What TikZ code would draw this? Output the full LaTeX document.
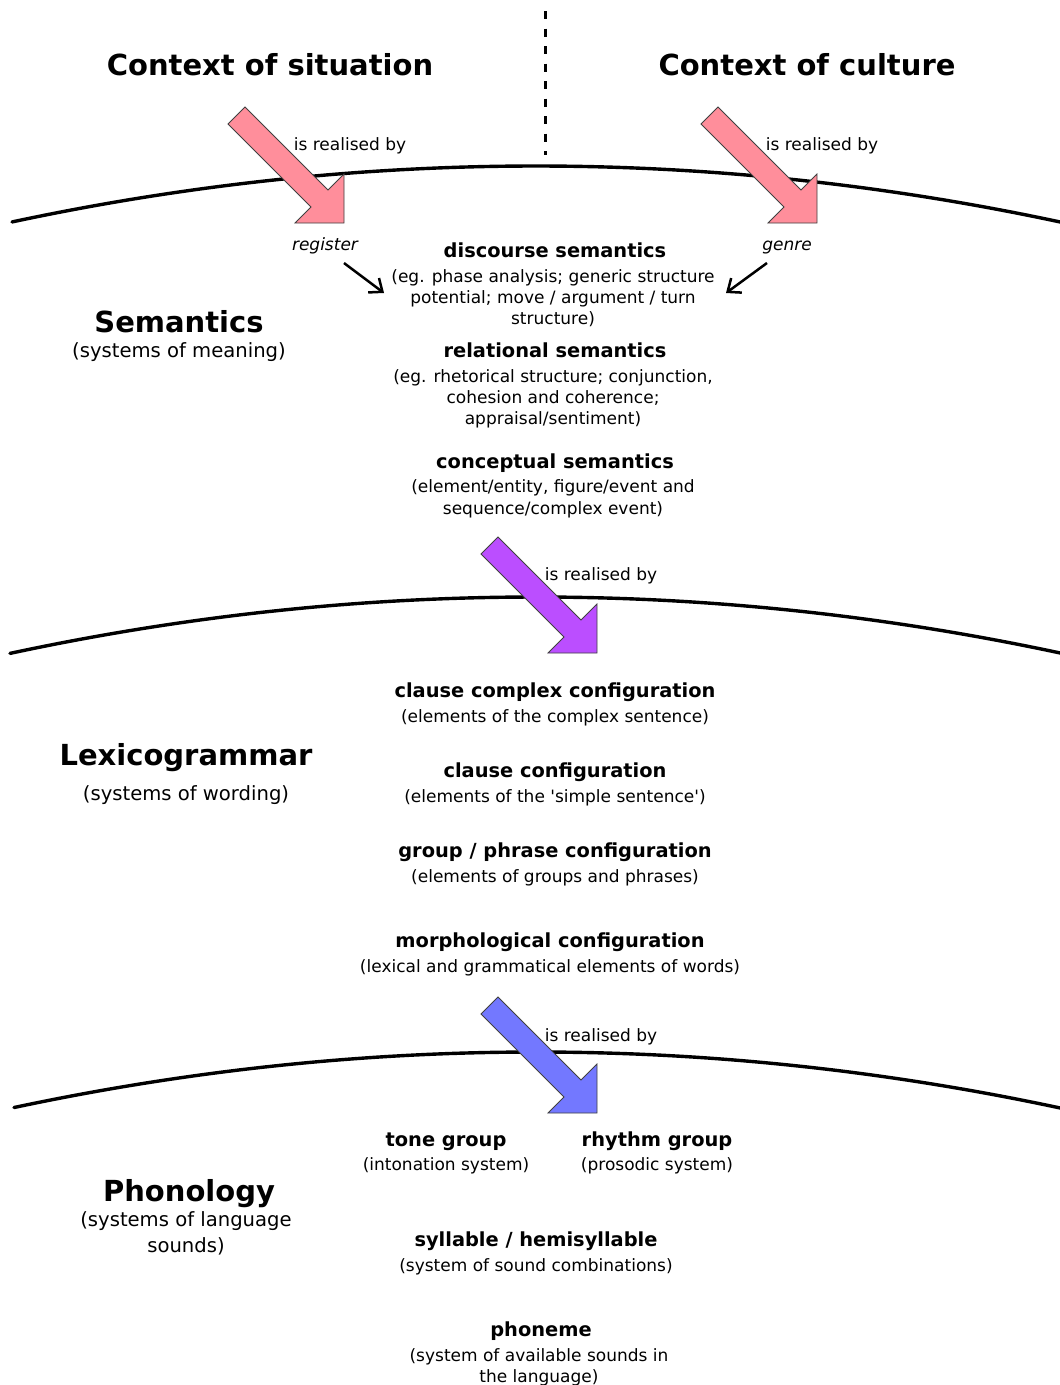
\documentclass[tikz,border=0pt]{standalone}
\usepackage{fontspec}
\setmainfont{DejaVu Sans}
\usetikzlibrary{arrows.meta}
\definecolor{pinkA}{HTML}{FF8E9B}
\definecolor{purpA}{HTML}{BB4EFF}
\definecolor{blueA}{HTML}{7378FF}
\begin{document}
\begin{tikzpicture}[x=1pt,y=-1pt,
  title/.style={font=\bfseries\fontsize{29}{34}\selectfont, anchor=base, inner sep=0pt},
  layer/.style={font=\bfseries\fontsize{29}{34}\selectfont, anchor=base, inner sep=0pt},
  layersub/.style={font=\fontsize{19.6}{24}\selectfont, anchor=base, inner sep=0pt},
  head/.style={font=\bfseries\fontsize{19.4}{24}\selectfont, anchor=base, inner sep=0pt},
  sub/.style={font=\fontsize{17}{21}\selectfont, anchor=base, inner sep=0pt},
  ital/.style={font=\itshape\fontsize{17}{21}\selectfont, anchor=base, inner sep=0pt},
  layerline/.style={line width=3.4pt, line cap=round},
  smallarrow/.style={line width=2.5pt, -{Straight Barb[length=11pt,width=18pt,line width=2.5pt]}},
  blockarrow/.pic={\draw[pic actions] (0,0) -- (0,-49) -- (-16,-33) -- (-99,-116) -- (-116,-99) -- (-33,-16) -- (-49,0) -- cycle;},
  blk/.style={draw=black!75, line width=0.8pt, line join=miter}
]
\useasboundingbox (0,0) rectangle (1060,1385);
\fill[white] (0,0) rectangle (1060,1385);

% dashed divider
\coordinate (dtop) at (545,11);
\coordinate (dbot) at (545,155);
\draw[line width=3pt, dash pattern=on 8pt off 9.5pt] (dtop) -- (dbot);

% layer boundary lines
\draw[layerline] plot[domain=12:1060,samples=90] (\x,{166+((\x-536)/100)^2*2.0375});
\draw[layerline] plot[domain=10:1060,samples=90] (\x,{597+((\x-536)/100)^2*2.0375});
\draw[layerline] plot[domain=14:1060,samples=90] (\x,{1052+((\x-536)/100)^2*2.0375});

% titles
\node[title] (cs) at (270,75) {Context of situation};
\node[title] (cc) at (807,75) {Context of culture};

% block arrows
\coordinate (tipA) at (344,223);
\coordinate (tipB) at (817,223);
\coordinate (tipC) at (597,653);
\coordinate (tipD) at (597,1113);
\pic[blk, fill=pinkA] at (tipA) {blockarrow};
\pic[blk, fill=pinkA] at (tipB) {blockarrow};
\pic[blk, fill=purpA] at (tipC) {blockarrow};
\pic[blk, fill=blueA] at (tipD) {blockarrow};

\node[sub] (rb1) at (350,150) {is realised by};
\node[sub] (rb2) at (822,150) {is realised by};
\node[sub] (rb3) at (601,580) {is realised by};
\node[sub] (rb4) at (601,1041) {is realised by};

\node[ital] (reg) at (325,250) {register};
\node[ital] (gen) at (787,250) {genre};

% Semantics
\node[layer] (sem) at (179,332) {Semantics};
\node[layersub] (sems) at (179,357) {(systems of meaning)};

\node[head] (ds) at (555,257) {discourse semantics};
\node[sub] (ds1) at (553,282) {(eg. phase analysis; generic structure};
\node[sub] (ds2) at (553,303) {potential; move / argument / turn};
\node[sub] (ds3) at (553,324) {structure)};

\coordinate (regS) at (344,263);
\coordinate (regE) at (384,293);
\coordinate (genS) at (767,263);
\coordinate (genE) at (726,293);
\draw[smallarrow] (regS) -- (regE);
\draw[smallarrow] (genS) -- (genE);

\node[head] (rs) at (555,357) {relational semantics};
\node[sub] (rs1) at (553,382) {(eg. rhetorical structure; conjunction,};
\node[sub] (rs2) at (553,403) {cohesion and coherence;};
\node[sub] (rs3) at (553,424) {appraisal/sentiment)};

\node[head] (cps) at (555,468) {conceptual semantics};
\node[sub] (cps1) at (553,492) {(element/entity, figure/event and};
\node[sub] (cps2) at (553,514) {sequence/complex event)};

% Lexicogrammar
\node[layer] (lex) at (186,765) {Lexicogrammar};
\node[layersub] (lexs) at (186,800) {(systems of wording)};

\node[head] (ccc) at (555,697) {clause complex configuration};
\node[sub] (ccc1) at (555,722) {(elements of the complex sentence)};
\node[head] (clc) at (555,777) {clause configuration};
\node[sub] (clc1) at (555,802) {(elements of the \textquotesingle simple sentence\textquotesingle)};
\node[head] (gpc) at (555,857) {group / phrase configuration};
\node[sub] (gpc1) at (555,882) {(elements of groups and phrases)};
\node[head] (mc) at (550,947) {morphological configuration};
\node[sub] (mc1) at (550,972) {(lexical and grammatical elements of words)};

% Phonology
\node[layer] (pho) at (189,1201) {Phonology};
\node[layersub] (phos1) at (186,1226) {(systems of language};
\node[layersub] (phos2) at (186,1252) {sounds)};

\node[head] (tg) at (446,1146) {tone group};
\node[sub] (tg1) at (446,1170) {(intonation system)};
\node[head] (rg) at (657,1146) {rhythm group};
\node[sub] (rg1) at (657,1170) {(prosodic system)};
\node[head] (syl) at (536,1246) {syllable / hemisyllable};
\node[sub] (syl1) at (536,1271) {(system of sound combinations)};
\node[head] (phn) at (541,1336) {phoneme};
\node[sub] (phn1) at (539,1361) {(system of available sounds in};
\node[sub] (phn2) at (539,1382) {the language)};
\end{tikzpicture}
\end{document}
